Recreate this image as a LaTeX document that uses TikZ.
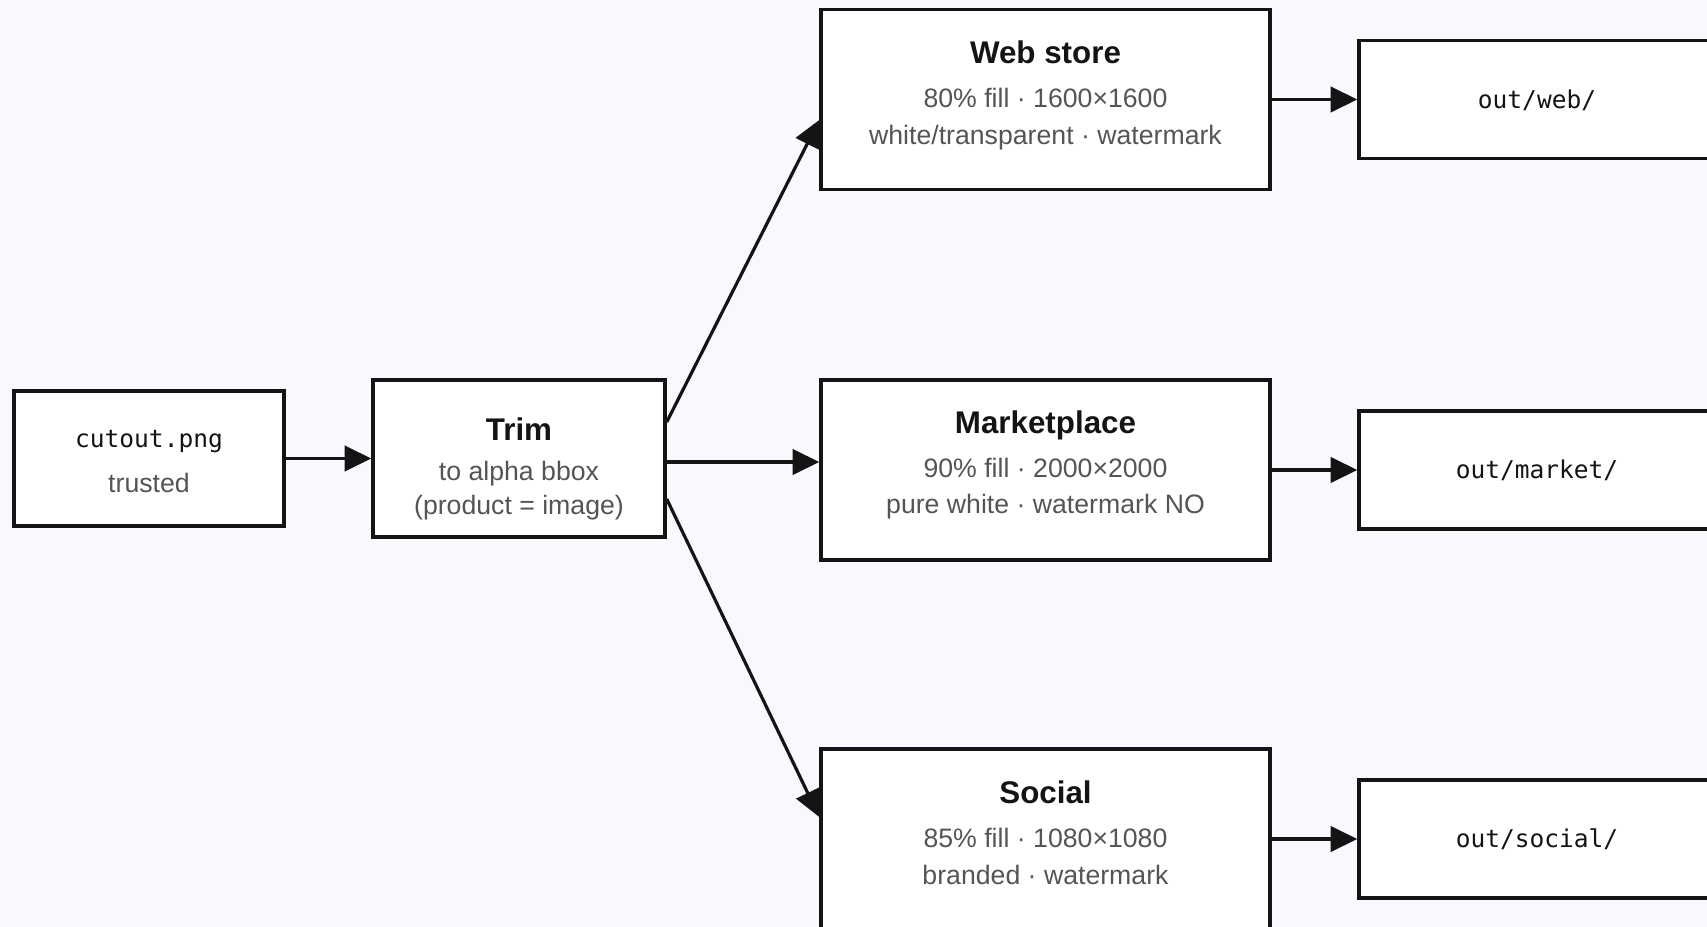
\documentclass[tikz,border=0pt]{standalone}
\usepackage{fontspec}
\setmainfont{Liberation Sans}
\newfontfamily\codefont{DejaVu Sans Mono}
\usetikzlibrary{arrows.meta,calc}

\definecolor{canvas}{HTML}{F8F8FE}
\definecolor{ink}{HTML}{141414}
\definecolor{muted}{HTML}{555555}

\tikzset{
  box/.style={draw=ink, line width=2.6pt, fill=white, rectangle, inner sep=0pt},
  srcbox/.style={box, minimum width=202.5pt, minimum height=101.25pt},
  trimbox/.style={box, minimum width=219pt, minimum height=117.75pt},
  stagebox/.style={box, minimum width=336.75pt, minimum height=135pt},
  outbox/.style={box, minimum width=267pt, minimum height=88.5pt},
  title/.style={font=\fontsize{23.5}{27}\selectfont\bfseries, text=ink, inner sep=0pt},
  sub/.style={font=\fontsize{20}{24}\selectfont, text=muted, inner sep=0pt},
  code/.style={font=\codefont\fontsize{18.4}{22}\selectfont, text=ink, inner sep=0pt},
  flow/.style={draw=ink, line width=2.4pt, -{Triangle[length=20pt, width=19pt]}},
}

\begin{document}
\begin{tikzpicture}[x=0.75pt, y=-0.75pt]
  % canvas
  \fill[canvas] (0,0) rectangle (1707,927);
  \useasboundingbox (0,0) rectangle (1707,927);
  \begin{scope}
  \clip (0,0) rectangle (1707,927);

  % source and trim stage
  \node[srcbox] (src) at (149,458.5) {};
  \node[code] (srcname) at (149,442) {cutout.png};
  \node[sub] (srcnote) at (149,483) {trusted};

  \node[trimbox] (trim) at (519,458.5) {};
  \node[title] (trimtitle) at (519,429) {Trim};
  \node[sub] (trimA) at (519,474) {to alpha bbox};
  \node[sub] (trimB) at (519,508) {(product = image)};

  % output profiles
  \node[stagebox] (web) at (1045.5,99.5) {};
  \node[title] (webtitle) at (1045.5,52) {Web store};
  \node[sub] (webA) at (1045.5,97.5) {80\% fill · 1600×1600};
  \node[sub] (webB) at (1045.5,138) {white/transparent · watermark};

  \node[stagebox] (mkt) at (1045.5,470) {};
  \node[title] (mkttitle) at (1045.5,425) {Marketplace};
  \node[sub] (mktA) at (1045.5,468) {90\% fill · 2000×2000};
  \node[sub] (mktB) at (1045.5,507) {pure white · watermark NO};

  \node[stagebox] (soc) at (1045.5,839) {};
  \node[title] (soctitle) at (1045.5,792) {Social};
  \node[sub] (socA) at (1045.5,837.5) {85\% fill · 1080×1080};
  \node[sub] (socB) at (1045.5,874.5) {branded · watermark};

  % output folders
  \node[outbox] (oweb) at (1537,99.5) {};
  \node[code] at ([yshift=-0.5pt]oweb.center) {out/web/};
  \node[outbox] (omkt) at (1537,470) {};
  \node[code] at ([yshift=-0.5pt]omkt.center) {out/market/};
  \node[outbox] (osoc) at (1537,839) {};
  \node[code] at ([yshift=-0.5pt]osoc.center) {out/social/};

  % connectors
  \draw[flow] (src.east) -- (trim.west);
  \draw[flow] ($(trim.east)+(0,-36.5)$) -- ($(web.west)+(0,20.5)$);
  \draw[flow] ($(trim.east)+(0,3.5)$) -- ($(mkt.west)+(0,-8)$);
  \draw[flow] ($(trim.east)+(0,40.5)$) -- ($(soc.west)+(0,-22)$);
  \draw[flow] (web.east) -- (oweb.west);
  \draw[flow] (mkt.east) -- (omkt.west);
  \draw[flow] (soc.east) -- (osoc.west);
  \end{scope}
\end{tikzpicture}
\end{document}
